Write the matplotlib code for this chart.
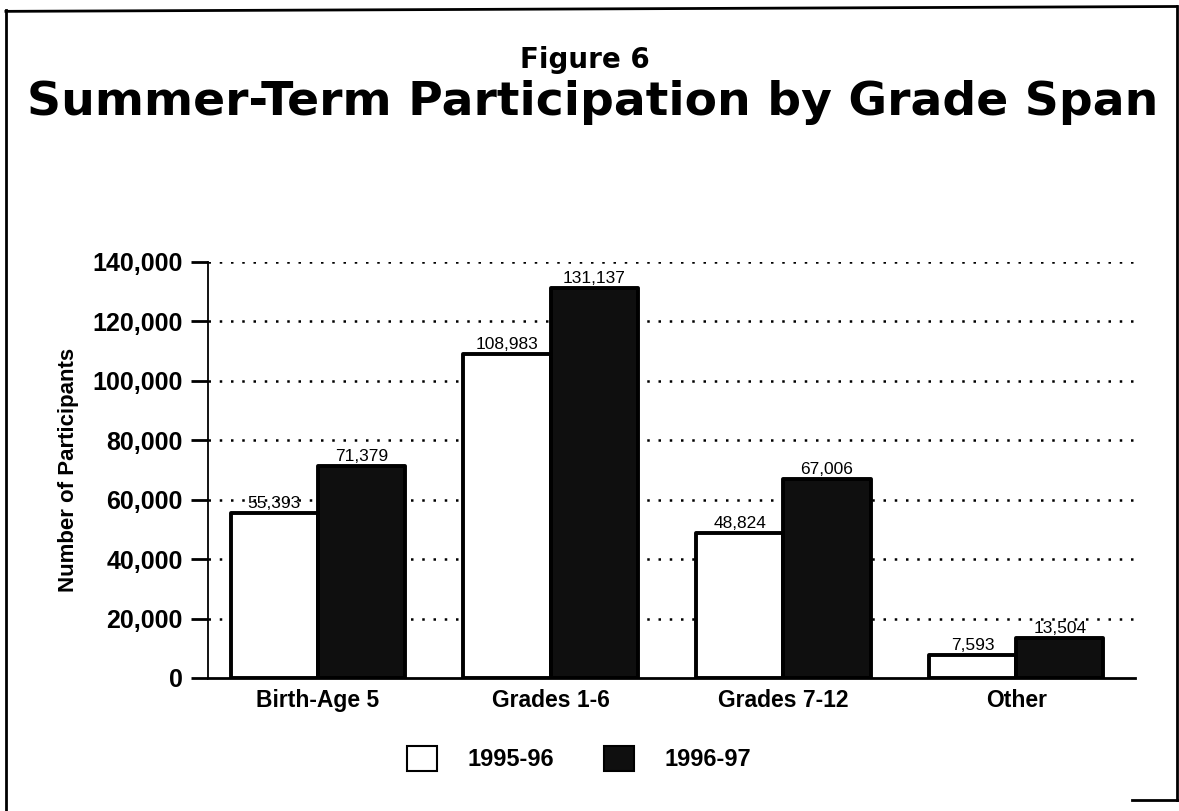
import matplotlib
matplotlib.use("Agg")
import matplotlib.pyplot as plt
import numpy as np
from matplotlib.lines import Line2D
from matplotlib.patches import Patch

categories = ["Birth-Age 5", "Grades 1-6", "Grades 7-12", "Other"]
series_names = ["1995-96", "1996-97"]
values_9596 = [55393, 108983, 48824, 7593]
values_9697 = [71379, 131137, 67006, 13504]
y_ticks = [0, 20000, 40000, 60000, 80000, 100000, 120000, 140000]

plt.rcParams['font.family'] = ['Liberation Sans', 'DejaVu Sans']

fig = plt.figure(figsize=(11.79, 8.11), dpi=100)
ax = fig.add_axes([0.1764, 0.164, 0.7862, 0.513])

x = np.arange(len(categories))
width = 0.375

bars1 = ax.bar(x - width / 2, values_9596, width, color="white", edgecolor="black",
               linewidth=2.8, joinstyle="round", zorder=3)
bars2 = ax.bar(x + width / 2, values_9697, width, color="#0f0f0f", edgecolor="black",
               linewidth=2.8, joinstyle="round", zorder=3)

for bars, vals in [(bars1, values_9596), (bars2, values_9697)]:
    for b, v in zip(bars, vals):
        ax.text(b.get_x() + b.get_width() / 2, v + 700, f"{v:,}",
                ha="center", va="bottom", fontsize=12.5, zorder=4)

ax.set_xlim(-0.472, 3.51)
ax.set_ylim(0, 140000)
ax.set_yticks(y_ticks)
ax.set_yticklabels([f"{t:,}" for t in y_ticks], fontsize=18, fontweight="bold")
ax.set_xticks(x)
ax.set_xticklabels(categories, fontsize=16.5, fontweight="bold")
ax.tick_params(axis="x", length=0, pad=8)
ax.tick_params(axis="y", length=12, width=2, direction="out", pad=6)

for t in y_ticks[1:]:
    ax.axhline(t, color="black", linestyle=(0, (1, 3.5)), linewidth=1.8, zorder=1)

ax.spines["top"].set_visible(False)
ax.spines["right"].set_visible(False)
ax.spines["left"].set_linewidth(1.3)
ax.spines["bottom"].set_linewidth(2)

ax.set_ylabel("Number of Participants", fontsize=16, fontweight="bold", labelpad=10)

fig.text(0.496, 0.926, "Figure 6", ha="center", va="center", fontsize=20,
         fontweight="bold", family="DejaVu Sans")
fig.text(0.503, 0.874, "Summer-Term Participation by Grade Span", ha="center",
         va="center", fontsize=34, fontweight="bold", family="DejaVu Sans")

handles = [Patch(facecolor="white", edgecolor="black", linewidth=1.5),
           Patch(facecolor="#0f0f0f", edgecolor="black", linewidth=1.5)]
leg = fig.legend(handles, series_names, loc="center", bbox_to_anchor=(0.491, 0.065),
                 ncol=2, frameon=False, fontsize=17, handlelength=1.27,
                 handleheight=1.27, handletextpad=1.3, columnspacing=2.1)
for txt in leg.get_texts():
    txt.set_fontweight("bold")

# page frame
fig.add_artist(Line2D([0.005, 0.005], [0.0, 0.988], color="black", lw=2, transform=fig.transFigure))
fig.add_artist(Line2D([0.005, 0.998], [0.986, 0.992], color="black", lw=2, transform=fig.transFigure))
fig.add_artist(Line2D([0.998, 0.998], [0.992, 0.014], color="black", lw=2, transform=fig.transFigure))
fig.add_artist(Line2D([0.96, 0.998], [0.014, 0.014], color="black", lw=2, transform=fig.transFigure))

fig.savefig("out.png", dpi=100)
